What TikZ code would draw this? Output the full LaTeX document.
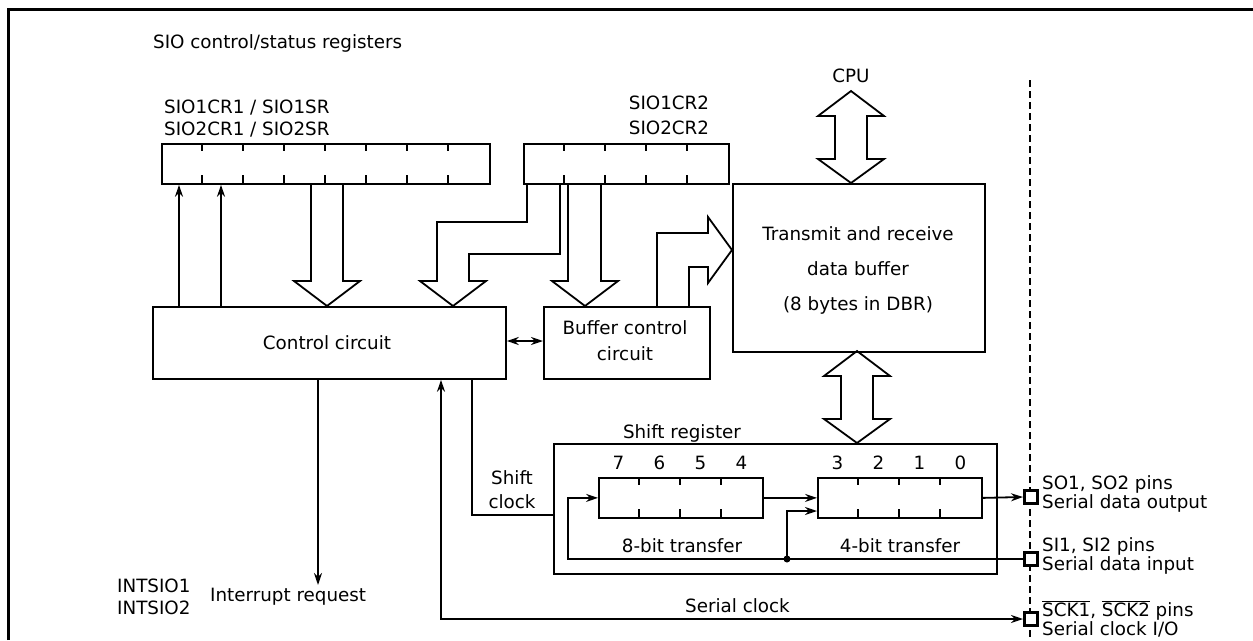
\documentclass[tikz,border=0pt]{standalone}
\usepackage{fontspec}
\setmainfont{DejaVu Sans}
\usetikzlibrary{arrows.meta}
\begin{document}
\begin{tikzpicture}[x=1pt,y=-1pt,
  lw/.style={line width=1.8pt},
  box/.style={draw,line width=1.8pt,inner sep=0pt,anchor=north west},
  txt/.style={inner sep=0pt,font=\fontsize{18.3}{21}\selectfont},
  arr/.style={line width=1.8pt,-{Stealth[length=12pt,width=8pt]}},
  barr/.style={line width=1.8pt,{Stealth[length=12pt,width=8pt]}-{Stealth[length=12pt,width=8pt]}},
  blk/.style={line width=1.8pt,line join=miter},
  pinsq/.style={draw,line width=3pt,minimum size=13pt,inner sep=0pt,fill=white}
]
\useasboundingbox (0,0) rectangle (1253,640);
% frame
\draw[line width=3pt] (8,640) -- (8,9) -- (1253,9);
% dashed boundary
\draw[line width=1.4pt,dash pattern=on 7pt off 4pt] (1030,80) -- (1030,640);

% titles
\node[txt,anchor=west] (title) at (153,43) {SIO control/status registers};
\node[txt,anchor=west,align=left,font=\fontsize{18.3}{22}\selectfont] (r1lab) at (164,119) {SIO1CR1 / SIO1SR\\SIO2CR1 / SIO2SR};
\node[txt,align=center,font=\fontsize{18.3}{25}\selectfont] (r2lab) at (669,115) {SIO1CR2\\SIO2CR2};
\node[txt] (cpu) at (851,76) {CPU};

% registers
\node[box,minimum width=328pt,minimum height=40pt] (reg1) at (161,143) {};
\foreach \i in {1,...,7} {\draw[lw] (161+41*\i,143) -- ++(0,8) (161+41*\i,183) -- ++(0,-8);}
\node[box,minimum width=205pt,minimum height=40pt] (reg2) at (523,143) {};
\foreach \i in {1,...,4} {\draw[lw] (523+41*\i,143) -- ++(0,8) (523+41*\i,183) -- ++(0,-8);}

% main boxes
\node[box,minimum width=252pt,minimum height=168pt] (dbr) at (732,183) {};
\node[txt,align=center,font=\fontsize{18.3}{35}\selectfont] (dbrtxt) at (858,270) {Transmit and receive\\data buffer\\(8 bytes in DBR)};
\node[box,minimum width=353pt,minimum height=72pt] (ctrl) at (152,306) {};
\node[txt] (ctrltxt) at (327,343) {Control circuit};
\node[box,minimum width=166pt,minimum height=72pt] (buf) at (543,306) {};
\node[txt,align=center,font=\fontsize{18.3}{26}\selectfont] (buftxt) at (625,341) {Buffer control\\circuit};

% CPU double block arrow
\draw[blk] (851,91) -- (884,116) -- (867,116) -- (867,159) -- (884,159) -- (851,183)
  -- (818,159) -- (835,159) -- (835,116) -- (818,116) -- cycle;
% DBR <-> shift register block arrow
\draw[blk] (857,351) -- (890,376) -- (873,376) -- (873,419) -- (890,419) -- (857,443)
  -- (824,419) -- (841,419) -- (841,376) -- (824,376) -- cycle;

% reg1 -> control block arrow
\draw[blk] (311,183) -- (311,281) -- (294,281) -- (327,306) -- (360,281) -- (343,281) -- (343,183);
% reg2 -> control bent block arrow
\draw[blk] (527,183) -- (527,222) -- (437,222) -- (437,281) -- (420,281) -- (453,306)
  -- (486,281) -- (469,281) -- (469,254) -- (560,254) -- (560,183);
% reg2 -> buffer control block arrow
\draw[blk] (568,183) -- (568,281) -- (552,281) -- (585,306) -- (618,281) -- (601,281) -- (601,183);
% buffer control -> DBR block arrow
\draw[blk] (657,306) -- (657,233) -- (708,233) -- (708,217) -- (732,250)
  -- (708,283) -- (708,267) -- (689,267) -- (689,306);

% control -> reg1 status arrows
\draw[arr] (ctrl.north -| 179,0) -- (reg1.south -| 179,0);
\draw[arr] (ctrl.north -| 221,0) -- (reg1.south -| 221,0);
% control <-> buffer control
\draw[barr] (ctrl.east |- 0,341) -- (buf.west |- 0,341);

% shift register
\node[box,minimum width=443pt,minimum height=130pt] (sr) at (553,443) {};
\node[txt] (srlab) at (682,433) {Shift register};
\node[box,minimum width=164pt,minimum height=40pt] (sr8) at (598,477) {};
\foreach \i in {1,...,3} {\draw[lw] (598+41*\i,477) -- ++(0,8) (598+41*\i,517) -- ++(0,-8);}
\node[box,minimum width=164pt,minimum height=40pt] (sr4) at (817,477) {};
\foreach \i in {1,...,3} {\draw[lw] (817+41*\i,477) -- ++(0,8) (817+41*\i,517) -- ++(0,-8);}
\foreach \d [count=\k from 0] in {7,6,5,4} {\node[txt] (b\d) at (618.5+41*\k,463) {\d};}
\foreach \d [count=\k from 0] in {3,2,1,0} {\node[txt] (b\d) at (837.5+41*\k,463) {\d};}
\node[txt] (t8) at (682,546) {8-bit transfer};
\node[txt] (t4) at (900,546) {4-bit transfer};

% pins
\node[pinsq] (so) at (1031,497) {};
\node[pinsq] (si) at (1031,559) {};
\node[pinsq] (sck) at (1031,619) {};
\node[txt,anchor=west,align=left,font=\fontsize{18.3}{19}\selectfont] (solab) at (1042,494) {SO1, SO2 pins\\Serial data output};
\node[txt,anchor=west,align=left,font=\fontsize{18.3}{19}\selectfont] (silab) at (1042,556) {SI1, SI2 pins\\Serial data input};
\node[txt,anchor=west,align=left,font=\fontsize{18.3}{19}\selectfont] (scklab) at (1042,619) {$\overline{\mbox{SCK1}}$, $\overline{\mbox{SCK2}}$ pins\\Serial clock I/O};

% shift register connections
\draw[arr] (sr8.east) -- (sr4.west);
\draw[arr] (sr4.east) -- (so.west);
\coordinate (j) at (787,559);
\draw[arr] (si.west) -- (568,559) |- (sr8.west);
\fill (j) circle (3.5pt);
\draw[arr] (j) |- (sr4.west |- 0,511);

% shift clock
\draw[lw] (ctrl.south -| 472,0) -- (472,515) -- (sr.west |- 0,515);
\node[txt,align=center,font=\fontsize{18.3}{24}\selectfont] (sclab) at (512,490) {Shift\\clock};

% serial clock
\draw[barr] (ctrl.south -| 441,0) -- (441,619) -- (sck.west);
\node[txt,anchor=west] (serclk) at (685,606) {Serial clock};

% interrupt request
\coordinate (irq) at (318,585);
\draw[arr] (ctrl.south -| irq) -- (irq);
\node[txt,anchor=west,align=left,font=\fontsize{18.3}{22}\selectfont] (intlab) at (117,597) {INTSIO1\\INTSIO2};
\node[txt,anchor=west] (irqlab) at (210,597) {Interrupt request};
\end{tikzpicture}
\end{document}
